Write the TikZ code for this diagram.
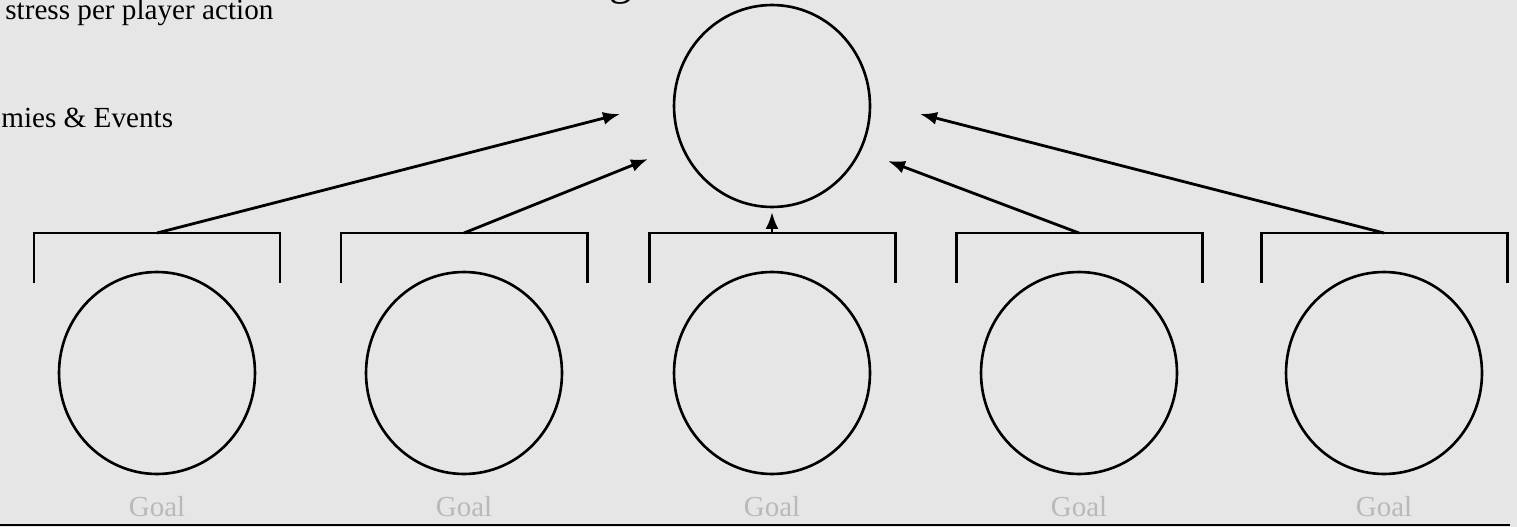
\documentclass[tikz,border=0pt]{standalone}
\usepackage{fontspec}
\setmainfont{Liberation Serif}
\usepackage{tikz}
\usetikzlibrary{arrows.meta, shapes.geometric}
\definecolor{paper}{HTML}{E6E6E6}
\definecolor{goaltext}{HTML}{B9B9B9}

\begin{document}
\begin{tikzpicture}[x=0.02cm, y=-0.02cm,
  goal/.style={ellipse, draw=black, line width=1.5pt, minimum width=3.92cm,
               minimum height=4.04cm, inner sep=0pt},
  bracket/.style={draw=black, line width=1.7pt},
  flow/.style={-{Latex[length=3.4mm, width=2.6mm]}, draw=black, line width=1.6pt},
  note/.style={font=\fontsize{16.6}{19}\selectfont, inner sep=0pt},
  goallabel/.style={font=\fontsize{16.5}{19}\selectfont, text=goaltext, inner sep=0pt},
]
% paper and frame
\path[use as bounding box, fill=paper] (0,0) rectangle (1517,527);
% fragments of text cut at the edges
\node[anchor=south, inner sep=0pt, font=\fontsize{26}{30}\selectfont] (title) at (621,5) {g};
\node[note, anchor=base west] (stress) at (5,20) {stress per player action};
\node[note, anchor=base west] (events) at (1,128) {mies \& Events};
% top node
\node[goal] (top) at (772,106) {};
% arrow tips near the top node
\coordinate (t1) at (620,114);
\coordinate (t2) at (648,159);
\coordinate (t3) at (772,212);
\coordinate (t4) at (888,161);
\coordinate (t5) at (920,114);
% five goals with their brackets
\foreach \i/\x in {1/157, 2/464, 3/772, 4/1079, 5/1384} {
  \node[goal] (g\i) at (\x,373) {};
  \node[goallabel] (l\i) at (\x,507) {Goal};
  \coordinate (b\i) at (\x,233);
  \draw[bracket] (b\i) ++(-123,50) |- ++(246,-50) -- ++(0,50);
  \draw[flow] (b\i) -- (t\i);
}
% bottom rule
\draw[line width=1.6pt] (0,525) -- (1510,525);
\end{tikzpicture}
\end{document}
